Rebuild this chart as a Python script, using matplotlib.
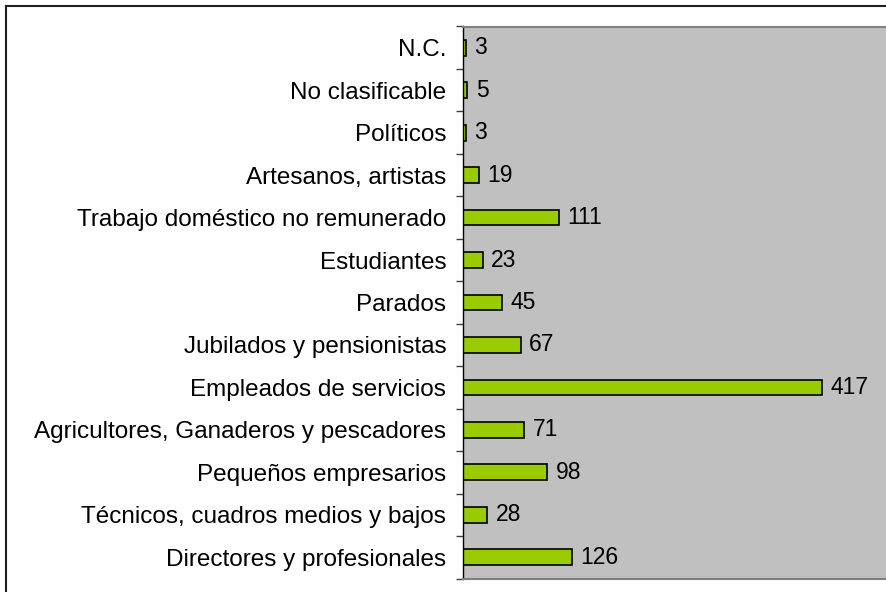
import matplotlib.pyplot as plt
from matplotlib.lines import Line2D

# categories listed bottom to top, as drawn
categories = [
    "Directores y profesionales",
    "Técnicos, cuadros medios y bajos",
    "Pequeños empresarios",
    "Agricultores, Ganaderos y pescadores",
    "Empleados de servicios",
    "Jubilados y pensionistas",
    "Parados",
    "Estudiantes",
    "Trabajo doméstico no remunerado",
    "Artesanos, artistas",
    "Políticos",
    "No clasificable",
    "N.C.",
]
counts = [126, 28, 98, 71, 417, 67, 45, 23, 111, 19, 3, 5, 3]

plt.rcParams["font.family"] = ["Liberation Sans", "DejaVu Sans"]

fig = plt.figure(figsize=(8.87, 5.92), dpi=100)
ax = fig.add_axes([463 / 887, 13.5 / 592, 431 / 887, 552 / 592])
ax.set_facecolor("#c0c0c0")

pos = range(len(categories))
ax.barh(pos, counts, height=0.37, color="#99cc00", edgecolor="black", linewidth=1.2)

for y, v in zip(pos, counts):
    ax.annotate(str(v), (v, y), xytext=(6, 0), textcoords="offset points",
                va="center", ha="left", fontsize=16.5)

ax.set_xlim(0, 500)
ax.set_ylim(-0.5, len(categories) - 0.5)
ax.set_yticks(list(pos))
ax.set_yticklabels(categories, fontsize=17.5)
ax.tick_params(axis="y", which="major", length=0, pad=12)
# tick marks sit between the categories
ax.set_yticks([p - 0.5 for p in range(len(categories) + 1)], minor=True)
ax.tick_params(axis="y", which="minor", length=5, width=1, color="#404040")
ax.set_xticks([])

for side in ["top", "right", "bottom"]:
    ax.spines[side].set_color("#808080")
    ax.spines[side].set_linewidth(1.5)
ax.spines["left"].set_color("black")
ax.spines["left"].set_linewidth(1)

# chart border (partly cut off by the picture edges)
fig.add_artist(Line2D([6 / 887, 6 / 887], [0, 1 - 6 / 592], color="#202020", linewidth=1.5))
fig.add_artist(Line2D([6 / 887, 1], [1 - 6 / 592, 1 - 6 / 592], color="#202020", linewidth=1.5))

fig.savefig("out.png", dpi=100)
